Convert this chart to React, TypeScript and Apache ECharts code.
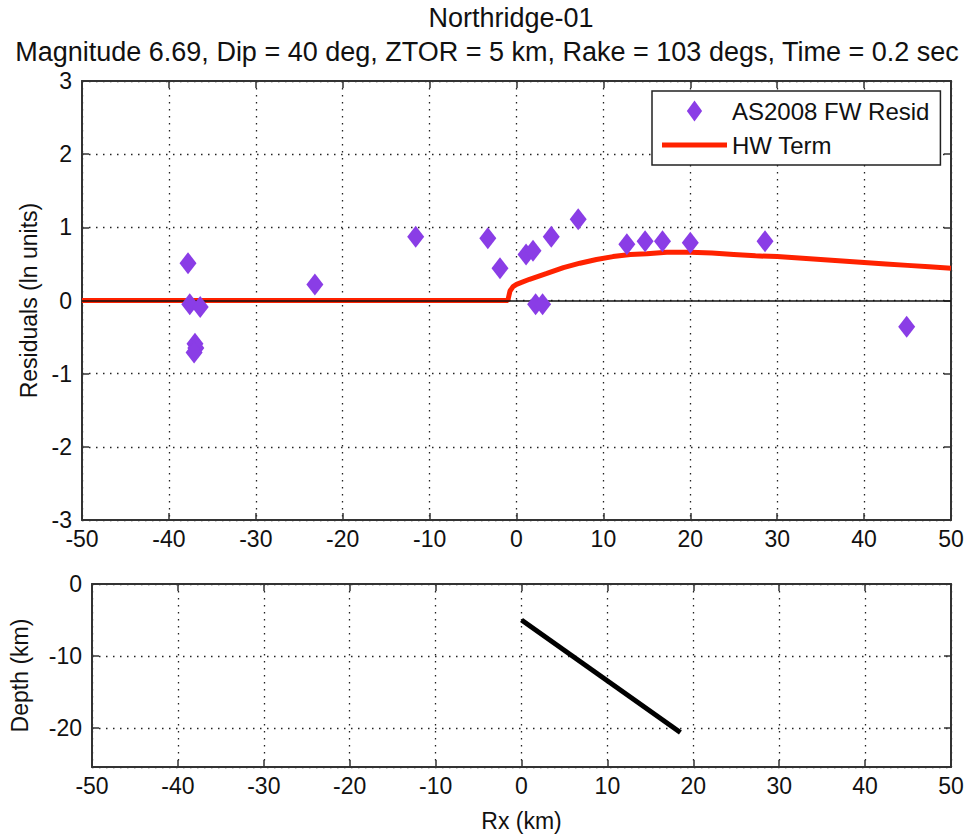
import React, { useEffect, useRef } from "react";
import * as echarts from "echarts";

// ---- Data ----
const residX = [-37.8, -37.6, -36.4, -37.0, -36.9, -37.1, -23.2, -11.6, -3.3, -1.9, 1.1, 1.9, 2.2, 3.0, 4.0, 7.1, 12.7, 14.8, 16.8, 20.0, 28.6, 44.9];
const residY = [0.51, -0.05, -0.09, -0.59, -0.65, -0.71, 0.22, 0.87, 0.85, 0.44, 0.63, 0.68, -0.05, -0.05, 0.87, 1.11, 0.77, 0.81, 0.81, 0.79, 0.81, -0.36];

const hwX = [-50, -1, -0.75, -0.4, 0, 1.5, 3.5, 5.4, 7.3, 9.2, 11.1, 13.1, 15, 17.3, 20, 22.5, 25, 27.5, 30, 32.5, 35, 37.5, 40, 42.5, 45, 47.5, 50];
const hwY = [0, 0, 0.13, 0.19, 0.22, 0.29, 0.37, 0.45, 0.51, 0.56, 0.6, 0.63, 0.64, 0.66, 0.66, 0.65, 0.63, 0.61, 0.6, 0.58, 0.56, 0.54, 0.52, 0.5, 0.48, 0.46, 0.44];

const depthX = [0, 18.5];
const depthY = [-5, -20.6];

const titleText = "Northridge-01";
const subtitleText = "Magnitude 6.69, Dip = 40 deg, ZTOR = 5 km, Rake = 103 degs, Time = 0.2 sec";

const FONT = "'Liberation Sans', Arial, sans-serif";

export default function App() {
  const ref = useRef<HTMLDivElement>(null);

  useEffect(() => {
    if (!ref.current) return;
    const chart = echarts.init(ref.current, undefined, { renderer: "svg" });

    const boxLine = { color: "#333", width: 2 };
    const dotted = { color: "#222", width: 1.3, type: [1.5, 5.5] as any };
    const tick = { inside: true, length: 7, lineStyle: { color: "#333", width: 1.5 } };
    const lbl = { fontSize: 23, color: "#111", fontFamily: FONT };

    const mainX = (grid: number, extra: any = {}) => ({
      type: "value", gridIndex: grid, min: -50, max: 50, interval: 10, position: "bottom",
      axisLine: { show: true, onZero: false, lineStyle: boxLine },
      axisTick: tick,
      axisLabel: { ...lbl, margin: 7 },
      splitLine: { show: true, lineStyle: dotted },
      ...extra,
    });
    const topX = (grid: number) => ({
      type: "value", gridIndex: grid, min: -50, max: 50, interval: 10, position: "top",
      axisLine: { show: true, onZero: false, lineStyle: boxLine },
      axisTick: tick, axisLabel: { show: false }, splitLine: { show: false },
    });

    const option: any = {
      animation: false,
      textStyle: { fontFamily: FONT },
      graphic: [
        { type: "text", x: 511, y: 18, style: { text: titleText, font: `27px ${FONT}`, fill: "#111", textAlign: "center", textVerticalAlign: "middle" } },
        { type: "text", x: 487, y: 52, style: { text: subtitleText, font: `27px ${FONT}`, fill: "#111", textAlign: "center", textVerticalAlign: "middle" } },
      ],
      legend: {
        orient: "vertical",
        left: 652,
        top: 91,
        padding: [8, 11, 8, 10],
        itemWidth: 65,
        itemHeight: 21,
        itemGap: 10,
        backgroundColor: "#fff",
        borderColor: "#222",
        borderWidth: 1.5,
        textStyle: { fontSize: 24, color: "#111", fontFamily: FONT },
        data: [
          { name: "AS2008 FW Resid", icon: "path://M0,-11L8,0L0,11L-8,0Z" },
          { name: "HW Term", icon: "path://M0,0L65,0L65,5L0,5Z", itemStyle: { color: "#ff2200" } },
        ],
      },
      grid: [
        { left: 82, top: 81, width: 869, height: 439 },
        { left: 82, top: 584, width: 869, height: 183 },
      ],
      xAxis: [
        mainX(0),
        topX(0),
        mainX(1, { name: "Rx (km)", nameLocation: "middle", nameGap: 42, nameTextStyle: { fontSize: 23, color: "#111", fontFamily: FONT } }),
        topX(1),
      ],
      yAxis: [
        {
          type: "value", gridIndex: 0, min: -3, max: 3, interval: 1, position: "left",
          axisLine: { show: true, onZero: false, lineStyle: boxLine },
          axisTick: tick, axisLabel: { ...lbl, margin: 10 },
          splitLine: { show: true, lineStyle: dotted },
          name: "Residuals (ln units)", nameLocation: "middle", nameGap: 40, nameRotate: 90,
          nameTextStyle: { fontSize: 23, color: "#111", fontFamily: FONT },
        },
        {
          type: "value", gridIndex: 0, min: -3, max: 3, interval: 1, position: "right",
          axisLine: { show: true, onZero: false, lineStyle: boxLine },
          axisTick: tick, axisLabel: { show: false }, splitLine: { show: false },
        },
        {
          type: "value", gridIndex: 1, min: -25.4, max: 0, splitNumber: 3, position: "left",
          axisLine: { show: true, onZero: false, lineStyle: boxLine },
          axisTick: tick,
          axisLabel: { ...lbl, margin: 10, formatter: (v: number) => (Math.abs(v % 10) < 1e-6 ? String(v) : "") },
          splitLine: { show: true, lineStyle: dotted },
          name: "Depth (km)", nameLocation: "middle", nameGap: 61, nameRotate: 90,
          nameTextStyle: { fontSize: 23, color: "#111", fontFamily: FONT },
        },
        {
          type: "value", gridIndex: 1, min: -25.4, max: 0, splitNumber: 3, position: "right",
          axisLine: { show: true, onZero: false, lineStyle: boxLine },
          axisTick: tick, axisLabel: { show: false }, splitLine: { show: false },
        },
      ],
      series: [
        {
          name: "HW Term", type: "line", xAxisIndex: 0, yAxisIndex: 0,
          data: hwX.map((x, i) => [x, hwY[i]]),
          symbol: "none", z: 2,
          lineStyle: { color: "#ff2200", width: 5 },
          itemStyle: { color: "#ff2200" },
          markLine: {
            silent: true, symbol: "none", z: 3,
            label: { show: false },
            lineStyle: { color: "#111", width: 1.5, type: "solid" },
            data: [{ yAxis: 0 }],
          },
        },
        {
          name: "AS2008 FW Resid", type: "scatter", xAxisIndex: 0, yAxisIndex: 0,
          data: residX.map((x, i) => [x, residY[i]]),
          symbol: "diamond", symbolSize: [17, 22], z: 4,
          itemStyle: { color: "#8a3de6", opacity: 1 },
        },
        {
          name: "Fault", type: "line", xAxisIndex: 2, yAxisIndex: 2,
          data: depthX.map((x, i) => [x, depthY[i]]),
          symbol: "none",
          lineStyle: { color: "#000", width: 5 },
        },
      ],
    };

    chart.setOption(option);
    return () => chart.dispose();
  }, []);

  return <div ref={ref} style={{ position: "absolute", left: 0, top: 0, width: 968, height: 836 }} />;
}
